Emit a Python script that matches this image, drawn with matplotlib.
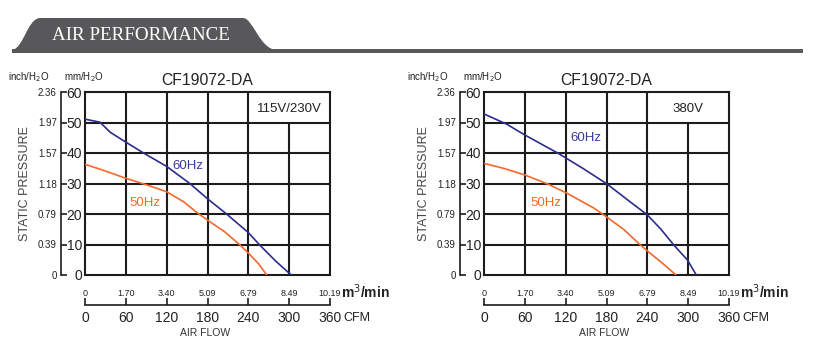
"""
Air performance curves for CF19072-DA (115V/230V and 380V).
"""

import matplotlib
matplotlib.use("Agg")
import matplotlib.pyplot as plt
from matplotlib.path import Path
from matplotlib.patches import PathPatch, Rectangle

W, H = 815, 353

# axis scales
CFM_TICKS = [0, 60, 120, 180, 240, 300, 360]
M3_LABELS = ["0", "1.70", "3.40", "5.09", "6.79", "8.49", "10.19"]
MM_TICKS = [0, 10, 20, 30, 40, 50, 60]
INCH_LABELS = ["0", "0.39", "0.79", "1.18", "1.57", "1.97", "2.36"]

# 115V/230V panel
cfm_60_a = [0, 22, 37, 59, 86, 120, 154, 180, 208, 240, 256, 280, 303]
mm_60_a = [51.1, 50.1, 46.8, 43.7, 40.0, 35.6, 30.0, 25.0, 20.0, 13.9, 10.0, 4.6, 0]
cfm_50_a = [0, 30, 60, 90, 120, 145, 166, 180, 205, 228, 240, 255, 267]
mm_50_a = [36.3, 34.1, 31.7, 29.6, 27.3, 24.0, 20.2, 18.0, 14.2, 9.8, 7.2, 3.7, 0]

# 380V panel
cfm_60_b = [0, 33, 60, 109, 145, 181, 210, 240, 260, 279, 299, 312]
mm_60_b = [52.8, 49.5, 45.9, 39.9, 35.0, 29.8, 24.8, 19.7, 15.0, 9.8, 4.9, 0]
cfm_50_b = [0, 30, 60, 94, 122, 161, 176, 205, 230, 240, 262, 282]
mm_50_b = [36.6, 34.9, 32.8, 29.8, 26.8, 22.0, 19.7, 15.0, 9.8, 7.9, 3.9, 0]

BLUE = "#2b2d8c"
ORANGE = "#f26a2b"
DARK = "#1c1c1c"

plt.rcParams["font.family"] = ["Liberation Sans", "DejaVu Sans"]


def px_axes(fig, x0, y0, x1, y1):
    return fig.add_axes([x0 / W, 1 - y1 / H, (x1 - x0) / W, (y1 - y0) / H])


def draw_panel(fig, x0, curves, volt_label, hz_pos):
    ax = px_axes(fig, x0, 92, x0 + 245, 275)
    ax.set_xlim(0, 360)
    ax.set_ylim(0, 60)

    # grid, the top-right cell is left open for the voltage label
    ax.vlines([60, 120, 180, 240], 0, 60, color=DARK, lw=1.5)
    ax.vlines([300], 0, 50, color=DARK, lw=1.5)
    ax.hlines([10, 20, 30, 40, 50], 0, 360, color=DARK, lw=1.5)
    for s in ax.spines.values():
        s.set_color(DARK)
        s.set_linewidth(1.5)

    (c60, m60), (c50, m50) = curves
    ax.plot(c60, m60, color=BLUE, lw=1.2, zorder=3)
    ax.plot(c50, m50, color=ORANGE, lw=1.2, zorder=3)

    ax.text(300, 54.5, volt_label, ha="center", va="center", fontsize=9.5, color="#222222")
    (x60, y60), (x50, y50) = hz_pos
    ax.text(x60, y60, "60Hz", ha="center", va="center", fontsize=9.5, color="#3b3b9e")
    ax.text(x50, y50, "50Hz", ha="center", va="center", fontsize=9.5, color=ORANGE)

    # mm/H2O labels sit right next to the box
    ax.set_yticks(MM_TICKS)
    ax.tick_params(axis="y", length=0, pad=2, labelsize=10, labelcolor="#222222")
    # m3/min labels above the CFM line
    ax.set_xticks(CFM_TICKS, labels=M3_LABELS)
    ax.tick_params(axis="x", length=0, pad=10, labelsize=6.5, labelcolor="#222222")

    # inch/H2O scale on its own spine
    sy = ax.secondary_yaxis(-0.098, functions=(lambda v: v / 25.4, lambda v: v * 25.4))
    sy.set_yticks([m / 25.4 for m in MM_TICKS], labels=INCH_LABELS)
    sy.tick_params(direction="in", length=4, width=1.2, pad=3, labelsize=7,
                   color=DARK, labelcolor="#222222")
    sy.spines["left"].set_linewidth(1.2)
    sy.spines["left"].set_color(DARK)

    # CFM scale
    sx = ax.secondary_xaxis(-0.165)
    sx.set_xticks(CFM_TICKS)
    sx.tick_params(direction="in", length=5, width=1.2, pad=4, labelsize=10,
                   color=DARK, labelcolor="#222222")
    sx.spines["bottom"].set_linewidth(1.2)
    sx.spines["bottom"].set_color(DARK)

    ax.set_title("CF19072-DA", fontsize=11.3, pad=5, color="#222222")
    ax.text(-0.229, 1.08, "inch/H$_2$O", transform=ax.transAxes, ha="center",
            va="center", fontsize=7, color="#222222")
    ax.text(-0.004, 1.08, "mm/H$_2$O", transform=ax.transAxes, ha="center",
            va="center", fontsize=7, color="#222222")
    ax.text(-0.245, 0.5, "STATIC PRESSURE", transform=ax.transAxes, rotation=90,
            ha="center", va="center", fontsize=9, color="#444444")
    ax.text(1.045, -0.093, "m$^3$/min", transform=ax.transAxes, ha="left",
            va="center", fontsize=10, fontweight="bold", color="#222222")
    ax.text(1.055, -0.235, "CFM", transform=ax.transAxes, ha="left",
            va="center", fontsize=9, color="#222222")
    ax.text(0.49, -0.315, "AIR FLOW", transform=ax.transAxes, ha="center",
            va="center", fontsize=7.5, color="#333333")
    return ax


def draw_header(fig):
    bg = fig.add_axes([0, 0, 1, 1], zorder=-1)
    bg.set_xlim(0, W)
    bg.set_ylim(H, 0)
    bg.axis("off")
    verts = [(12, 50), (24, 48), (27, 19), (40, 18),
             (243, 18), (253, 18), (259, 48), (276, 50), (12, 50)]
    codes = [Path.MOVETO, Path.CURVE4, Path.CURVE4, Path.CURVE4,
             Path.LINETO, Path.CURVE4, Path.CURVE4, Path.CURVE4, Path.CLOSEPOLY]
    bg.add_patch(PathPatch(Path(verts, codes), facecolor="#58585a", edgecolor="none"))
    bg.add_patch(Rectangle((12, 48.5), 791, 4, facecolor="#58585a", edgecolor="none"))
    bg.text(141, 35, "AIR PERFORMANCE", ha="center", va="center", color="white",
            fontsize=13.7, family=["Liberation Serif", "DejaVu Serif"])


fig = plt.figure(figsize=(W / 100, H / 100), dpi=100)
draw_header(fig)
draw_panel(fig, 85, [(cfm_60_a, mm_60_a), (cfm_50_a, mm_50_a)], "115V/230V",
           [(151, 35.7), (88, 23.6)])
draw_panel(fig, 484, [(cfm_60_b, mm_60_b), (cfm_50_b, mm_50_b)], "380V",
           [(150, 44.9), (91, 23.6)])
fig.savefig("out.png", dpi=100)
